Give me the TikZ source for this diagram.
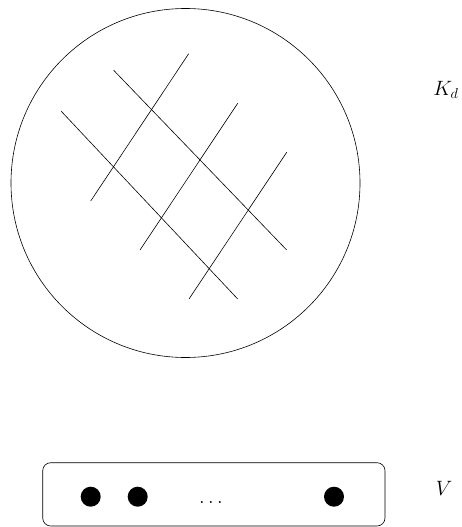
\documentclass[tikz,border=0pt]{standalone}
\begin{document}
\begin{tikzpicture}[x=1pt,y=-1pt,
  thinline/.style={line width=0.6pt},
  vertex/.style={circle,fill=black,inner sep=0pt,minimum size=20pt},
  lbl/.style={font=\fontsize{20}{24}\selectfont}]
\useasboundingbox (0,0) rectangle (462,527);
% big circle
\draw[thinline] (185.5,183) circle[radius=174.5];
% grid lines
\coordinate (a1) at (61,111);   \coordinate (a2) at (237.7,299);
\coordinate (b1) at (113.7,70.3); \coordinate (b2) at (286.7,250);
\coordinate (c1) at (90.7,201); \coordinate (c2) at (188.7,53.7);
\coordinate (d1) at (140,250);  \coordinate (d2) at (237.7,103.3);
\coordinate (e1) at (189,299);  \coordinate (e2) at (286.7,152.3);
\draw[thinline] (a1) -- (a2);
\draw[thinline] (b1) -- (b2);
\draw[thinline] (c1) -- (c2);
\draw[thinline] (d1) -- (d2);
\draw[thinline] (e1) -- (e2);
% labels
\node[lbl] (Kd) at (446,90) {$K_d$};
% box
\draw[thinline,rounded corners=8pt] (42.7,462.7) rectangle (385,526);
\node[vertex] (v1) at (90.7,496.7) {};
\node[vertex] (v2) at (137.7,496.7) {};
\node[vertex] (v3) at (334,496.7) {};
\node[lbl,anchor=base,inner sep=0pt] (dd) at (211,503) {$\ldots$};
\node[lbl] (V) at (444,488) {$V$};
\end{tikzpicture}
\end{document}
